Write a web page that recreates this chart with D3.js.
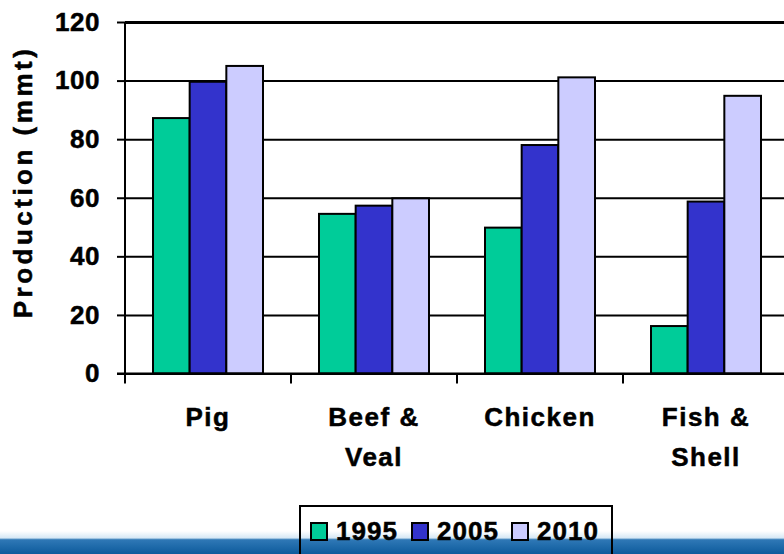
<!DOCTYPE html>
<html>
<head>
<meta charset="utf-8">
<script src="https://cdn.jsdelivr.net/npm/d3@7"></script>
<style>
  body { margin: 0; background: #fff; }
  text { font-family: "Liberation Sans", Arial, sans-serif; font-weight: bold; fill: #000; stroke: #000; stroke-width: 0.5px; }
</style>
</head>
<body>
<div id="chart-area"></div>
<script>
// data
let categories = ["Pig", "Beef & Veal", "Chicken", "Fish & Shell"];
let catLabels = [["Pig"], ["Beef &", "Veal"], ["Chicken"], ["Fish &", "Shell"]];
let years = ["1995", "2005", "2010"];
let v1995 = [87.2, 54.5, 49.8, 16.2];
let v2005 = [99.6, 57.3, 78.0, 58.7];
let v2010 = [105.0, 59.8, 101.1, 94.8];
let yTicks = [0, 20, 40, 60, 80, 100, 120];
let colors = ["#00cc99", "#3333cc", "#ccccff"];

let series = [v1995, v2005, v2010];

let W = 784, H = 554;
let margin = {top: 22, right: -5, bottom: 554 - 373.5, left: 125};
let width = W - margin.left - margin.right;
let height = H - margin.top - margin.bottom;

let root = d3.select("#chart-area").append("svg")
  .attr("width", W)
  .attr("height", H);

// blue band at the bottom
let defs = root.append("defs");
let grad = defs.append("linearGradient").attr("id", "band").attr("x1", 0).attr("x2", 0).attr("y1", 0).attr("y2", 1);
grad.append("stop").attr("offset", "0%").attr("stop-color", "#ffffff");
grad.append("stop").attr("offset", "30%").attr("stop-color", "#d6e8f5");
grad.append("stop").attr("offset", "38%").attr("stop-color", "#2f78b6");
grad.append("stop").attr("offset", "100%").attr("stop-color", "#0d5b9c");
root.append("rect")
  .attr("x", 0).attr("y", 531).attr("width", W).attr("height", 23)
  .attr("fill", "url(#band)");

let svg = root.append("g")
  .attr("transform", "translate(" + margin.left + "," + margin.top + ")");

// scales
let p = 56 / 166;
let x0 = d3.scaleBand()
  .domain(categories)
  .range([0, width])
  .paddingInner(p)
  .paddingOuter(p / 2);

let x1 = d3.scaleBand()
  .domain(years)
  .range([0, x0.bandwidth()]);

let y = d3.scaleLinear()
  .domain([0, 120])
  .range([height, 0]);

// gridlines
let grid = svg.append("g")
  .call(d3.axisLeft(y).tickValues(yTicks).tickSize(-width).tickFormat(""));
grid.select(".domain").remove();
grid.selectAll("line")
  .attr("stroke", "#000")
  .attr("stroke-width", d => d == 120 ? 3 : 2);

// bars
let rows = categories.map((c, i) => ({cat: c, vals: years.map((yr, j) => ({year: yr, value: series[j][i], k: j}))}));

svg.selectAll(".grp")
  .data(rows)
  .enter().append("g")
  .attr("class", "grp")
  .attr("transform", d => "translate(" + x0(d.cat) + ",0)")
  .selectAll("rect")
  .data(d => d.vals)
  .enter().append("rect")
  .attr("x", d => x1(d.year))
  .attr("y", d => y(d.value))
  .attr("width", x1.bandwidth())
  .attr("height", d => height - y(d.value))
  .attr("fill", d => colors[d.k])
  .attr("stroke", "#000")
  .attr("stroke-width", 2);

// y axis
let yAxis = svg.append("g")
  .call(d3.axisLeft(y).tickValues(yTicks).tickSize(8).tickPadding(17));
yAxis.select(".domain").remove();
yAxis.selectAll("line").attr("stroke", "#000").attr("stroke-width", 2);
yAxis.selectAll("text")
  .style("font-family", "'Liberation Sans', Arial, sans-serif")
  .style("font-weight", "bold")
  .style("font-size", "26px")
  .attr("letter-spacing", 0.5)
  .attr("fill", "#000");

svg.append("line")
  .attr("x1", 0).attr("x2", 0)
  .attr("y1", y(120)).attr("y2", height)
  .attr("stroke", "#000").attr("stroke-width", 2);

// x axis line and boundary ticks
svg.append("line")
  .attr("x1", -8).attr("x2", width)
  .attr("y1", height).attr("y2", height)
  .attr("stroke", "#000").attr("stroke-width", 2);

let gap = (x0.step() - x0.bandwidth()) / 2;
let bounds = categories.map(c => x0(c) - gap).concat([x0(categories[categories.length - 1]) + x0.bandwidth() + gap]);
svg.selectAll(".xtick")
  .data(bounds)
  .enter().append("line")
  .attr("class", "xtick")
  .attr("x1", d => d).attr("x2", d => d)
  .attr("y1", height).attr("y2", height + 10)
  .attr("stroke", "#000").attr("stroke-width", 2);

// category labels
let lab = svg.selectAll(".xlab")
  .data(categories)
  .enter().append("text")
  .attr("class", "xlab")
  .attr("text-anchor", "middle")
  .attr("font-size", 26)
  .attr("letter-spacing", 1.5)
  .attr("transform", d => "translate(" + (x0(d) + x0.bandwidth() / 2) + "," + (height + 52.5) + ")");
lab.selectAll("tspan")
  .data((d, i) => catLabels[i])
  .enter().append("tspan")
  .attr("x", 0)
  .attr("dy", (d, i) => i == 0 ? 0 : 40)
  .text(d => d);

// y title
root.append("text")
  .attr("text-anchor", "middle")
  .attr("font-size", 26)
  .attr("letter-spacing", 3.5)
  .attr("transform", "translate(32,182) rotate(-90)")
  .text("Production (mmt)");

// legend
let leg = root.append("g").attr("transform", "translate(300,506)");
leg.append("rect")
  .attr("x", 0).attr("y", 0).attr("width", 312).attr("height", 60)
  .attr("fill", "none").attr("stroke", "#000").attr("stroke-width", 2);

let legX = [11, 112, 212];
let item = leg.selectAll(".li")
  .data(years)
  .enter().append("g")
  .attr("class", "li")
  .attr("transform", (d, i) => "translate(" + legX[i] + ",0)");
item.append("rect")
  .attr("x", 0).attr("y", 17).attr("width", 16).attr("height", 17)
  .attr("fill", (d, i) => colors[i])
  .attr("stroke", "#000").attr("stroke-width", 2);
item.append("text")
  .attr("x", 25).attr("y", 34)
  .attr("font-size", 26)
  .attr("letter-spacing", 1)
  .text(d => d);
</script>
</body>
</html>
